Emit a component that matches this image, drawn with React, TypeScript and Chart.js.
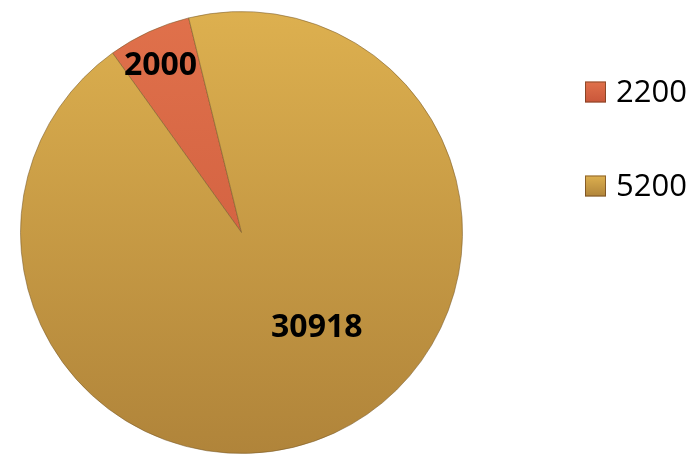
import React, { useEffect, useRef } from "react";
import { Chart, registerables } from "chart.js";

Chart.register(...registerables);

const legendLabels = ["2200", "5200"];
const values = [2000, 30918];
const topColors = ["#E0714B", "#DDB04F"];
const bottomColors = ["#C9563A", "#B0843A"];
// label placement: fraction of slice angle, fraction of radius
const labelAngleFrac = [0.45, 0.46];
const labelRadiusFrac = [0.84, 0.55];

const FONT = "'Open Sans', 'DejaVu Sans', sans-serif";

const labelPlugin = {
  id: "sliceLabels",
  afterDatasetsDraw(chart: any) {
    const ctx = chart.ctx;
    const meta = chart.getDatasetMeta(0);
    ctx.save();
    ctx.font = `bold 32px ${FONT}`;
    ctx.fillStyle = "#000";
    ctx.textAlign = "center";
    ctx.textBaseline = "middle";
    meta.data.forEach((arc: any, i: number) => {
      const p = arc.getProps(["x", "y", "startAngle", "endAngle", "outerRadius"], true);
      const a = p.startAngle + (p.endAngle - p.startAngle) * labelAngleFrac[i];
      const r = p.outerRadius * labelRadiusFrac[i];
      ctx.fillText(String(values[i]), p.x + Math.cos(a) * r, p.y + Math.sin(a) * r);
    });
    ctx.restore();
  },
};

const legendPlugin = {
  id: "customLegend",
  afterDraw(chart: any) {
    const ctx = chart.ctx;
    ctx.save();
    const x0 = 585;
    const y0 = 92;
    const gap = 94;
    const size = 21;
    ctx.font = `31px ${FONT}`;
    ctx.textAlign = "left";
    ctx.textBaseline = "middle";
    legendLabels.forEach((lab, i) => {
      const y = y0 + i * gap;
      const g = ctx.createLinearGradient(0, y - size / 2, 0, y + size / 2);
      g.addColorStop(0, topColors[i]);
      g.addColorStop(1, bottomColors[i]);
      ctx.fillStyle = g;
      ctx.fillRect(x0, y - size / 2, size, size);
      ctx.strokeStyle = "rgba(90,50,20,0.6)";
      ctx.lineWidth = 1;
      ctx.strokeRect(x0 + 0.5, y - size / 2 + 0.5, size - 1, size - 1);
      ctx.fillStyle = "#000";
      ctx.fillText(lab, x0 + size + 10, y + 1);
    });
    ctx.restore();
  },
};

export default function App() {
  const ref = useRef<HTMLCanvasElement>(null);
  useEffect(() => {
    document.body.style.margin = "0";
    const canvas = ref.current!;
    const chart = new Chart(canvas, {
      type: "pie",
      data: {
        labels: legendLabels,
        datasets: [
          {
            data: values,
            backgroundColor: (c: any) => {
              const area = c.chart.chartArea;
              const i = c.dataIndex;
              if (!area) return topColors[i];
              const g = c.chart.ctx.createLinearGradient(0, area.top, 0, area.bottom);
              g.addColorStop(0, topColors[i]);
              g.addColorStop(1, bottomColors[i]);
              return g;
            },
            borderColor: "rgba(120,90,40,0.55)",
            borderWidth: 1,
          },
        ],
      },
      options: {
        responsive: false,
        animation: false,
        rotation: -35.7,
        layout: { padding: { top: 11, bottom: 0, left: 20, right: 229 } },
        plugins: {
          legend: { display: false },
          tooltip: { enabled: false },
        },
      },
      plugins: [labelPlugin, legendPlugin],
    });
    return () => chart.destroy();
  }, []);
  return (
    <div style={{ position: "absolute", left: 0, top: 0, width: 692, height: 454, background: "#fff" }}>
      <canvas ref={ref} width={692} height={454} />
    </div>
  );
}
